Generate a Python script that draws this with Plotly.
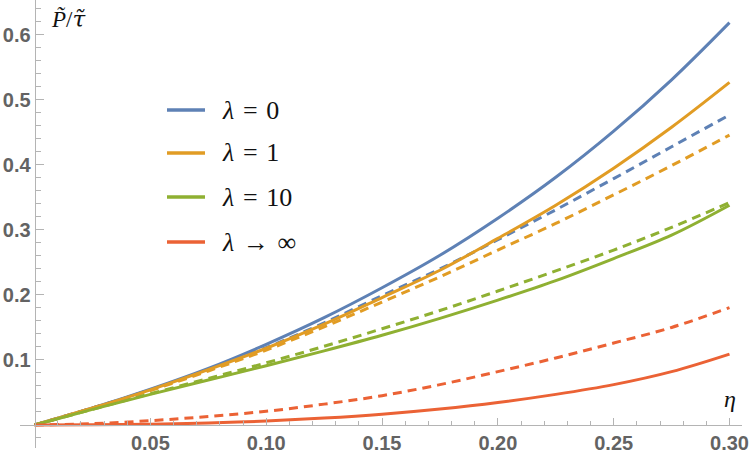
import plotly.graph_objects as go

# ---- data ----
eta = [0, 0.025, 0.05, 0.075, 0.1, 0.125, 0.15, 0.175, 0.2, 0.225, 0.25, 0.275, 0.3]
blue_solid = [0, 0.026, 0.055, 0.087, 0.124, 0.165, 0.211, 0.261, 0.318, 0.381, 0.452, 0.531, 0.619]
orange_solid = [0, 0.026, 0.054, 0.085, 0.118, 0.155, 0.196, 0.238, 0.287, 0.338, 0.395, 0.458, 0.527]
green_solid = [0, 0.024, 0.047, 0.069, 0.091, 0.114, 0.138, 0.164, 0.192, 0.222, 0.256, 0.292, 0.338]
red_solid = [0, 0.0002, 0.0012, 0.003, 0.006, 0.0105, 0.0165, 0.0245, 0.0345, 0.047, 0.062, 0.082, 0.109]
blue_dashed = [0, 0.026, 0.054, 0.085, 0.119, 0.157, 0.199, 0.240, 0.285, 0.331, 0.379, 0.428, 0.477]
orange_dashed = [0, 0.026, 0.053, 0.083, 0.115, 0.151, 0.189, 0.228, 0.269, 0.310, 0.354, 0.399, 0.446]
green_dashed = [0, 0.024, 0.048, 0.0715, 0.0955, 0.121, 0.148, 0.176, 0.206, 0.237, 0.269, 0.304, 0.342]
red_dashed = [0, 0.002, 0.0065, 0.013, 0.021, 0.032, 0.045, 0.062, 0.082, 0.103, 0.126, 0.150, 0.1805]

legend_labels = ["<i>λ</i>\u2004=\u20040", "<i>λ</i>\u2004=\u20041",
                 "<i>λ</i>\u2004=\u200410", "<i>λ</i>\u2004→\u2004∞"]
x_ticks = [0.05, 0.10, 0.15, 0.20, 0.25, 0.30]
x_ticktext = ["0.05", "0.10", "0.15", "0.20", "0.25", "0.30"]
y_ticks = [0.1, 0.2, 0.3, 0.4, 0.5, 0.6]
y_ticktext = ["0.1", "0.2", "0.3", "0.4", "0.5", "0.6"]

colors = ["#5E81B5", "#E19C24", "#8FB032", "#EB6235"]
solids = [blue_solid, orange_solid, green_solid, red_solid]
dashes = [blue_dashed, orange_dashed, green_dashed, red_dashed]

# ---- layout geometry ----
W, H = 750, 461
ML, MR, MT, MB = 20, 8, 0, 13
XR = [-0.0063, 0.3054]
YR = [-0.0355, 0.6538]
PW, PH = W - ML - MR, H - MT - MB


def px2paper(px, py):
    return (px - ML) / PW, (H - MB - py) / PH


fig = go.Figure()
for c, ys in zip(colors, dashes):
    fig.add_trace(go.Scatter(x=eta, y=ys, mode="lines", showlegend=False, hoverinfo="skip",
                             line=dict(color=c, width=3, dash="9px,6px", shape="spline")))
for c, ys in zip(colors, solids):
    fig.add_trace(go.Scatter(x=eta, y=ys, mode="lines", showlegend=False, hoverinfo="skip",
                             line=dict(color=c, width=3, shape="spline")))

# custom legend
row_y = [110, 153, 197, 242]
for c, lab, ry in zip(colors, legend_labels, row_y):
    x0, y0 = px2paper(167, ry)
    x1, _ = px2paper(205, ry)
    fig.add_shape(type="line", xref="paper", yref="paper", x0=x0, x1=x1, y0=y0, y1=y0,
                  line=dict(color=c, width=3.5))
    tx, ty = px2paper(220, ry)
    fig.add_annotation(xref="paper", yref="paper", x=tx, y=ty, text=lab, showarrow=False,
                       xanchor="left", yanchor="middle",
                       font=dict(family="Liberation Serif", size=26, color="#111"))

# axis labels
ax, ay = px2paper(49, 19)
fig.add_annotation(xref="paper", yref="paper", x=ax, y=ay,
                   text="<i>P̃</i>/<i><span style='font-family:DejaVu Serif'>τ̃</span></i>",
                   showarrow=False, xanchor="left", yanchor="middle",
                   font=dict(family="Liberation Serif", size=23, color="#111"))
ex, ey = px2paper(730, 399)
fig.add_annotation(xref="paper", yref="paper", x=ex, y=ey, text="<i>η</i>",
                   showarrow=False, xanchor="center", yanchor="middle",
                   font=dict(family="Liberation Serif", size=24, color="#111"))

axis_col = "#b4b4b4"
tick_font = dict(family="Liberation Sans", size=20, color="#636363", weight="bold")
x_minor = [round(0.01 * i, 2) for i in range(1, 31) if i % 5]
y_minor = [round(0.02 * i, 2) for i in range(-1, 33) if i % 5 and i != 0]

fig.update_layout(
    width=W, height=H,
    margin=dict(l=ML, r=MR, t=MT, b=MB),
    plot_bgcolor="white", paper_bgcolor="white",
    showlegend=False,
    xaxis=dict(range=XR, showgrid=False, zeroline=False, showline=True, linecolor=axis_col,
               linewidth=1, anchor="free",
               position=(0 - YR[0]) / (YR[1] - YR[0]),
               tickmode="array", tickvals=x_ticks, ticktext=x_ticktext,
               ticks="inside", ticklen=7, tickcolor=axis_col, tickwidth=1,
               tickfont=tick_font,
               minor=dict(tickmode="array", tickvals=x_minor, ticks="inside", ticklen=4,
                          tickcolor=axis_col, tickwidth=1, showgrid=False)),
    yaxis=dict(range=YR, showgrid=False, zeroline=False, showline=True, linecolor=axis_col,
               linewidth=1, anchor="free",
               position=(0 - XR[0]) / (XR[1] - XR[0]),
               tickmode="array", tickvals=y_ticks, ticktext=y_ticktext,
               ticks="inside", ticklen=8, tickcolor=axis_col, tickwidth=1,
               tickfont=tick_font,
               minor=dict(tickmode="array", tickvals=y_minor, ticks="inside", ticklen=5,
                          tickcolor=axis_col, tickwidth=1, showgrid=False)),
)

fig.write_html("out.html", config={"displayModeBar": False})
